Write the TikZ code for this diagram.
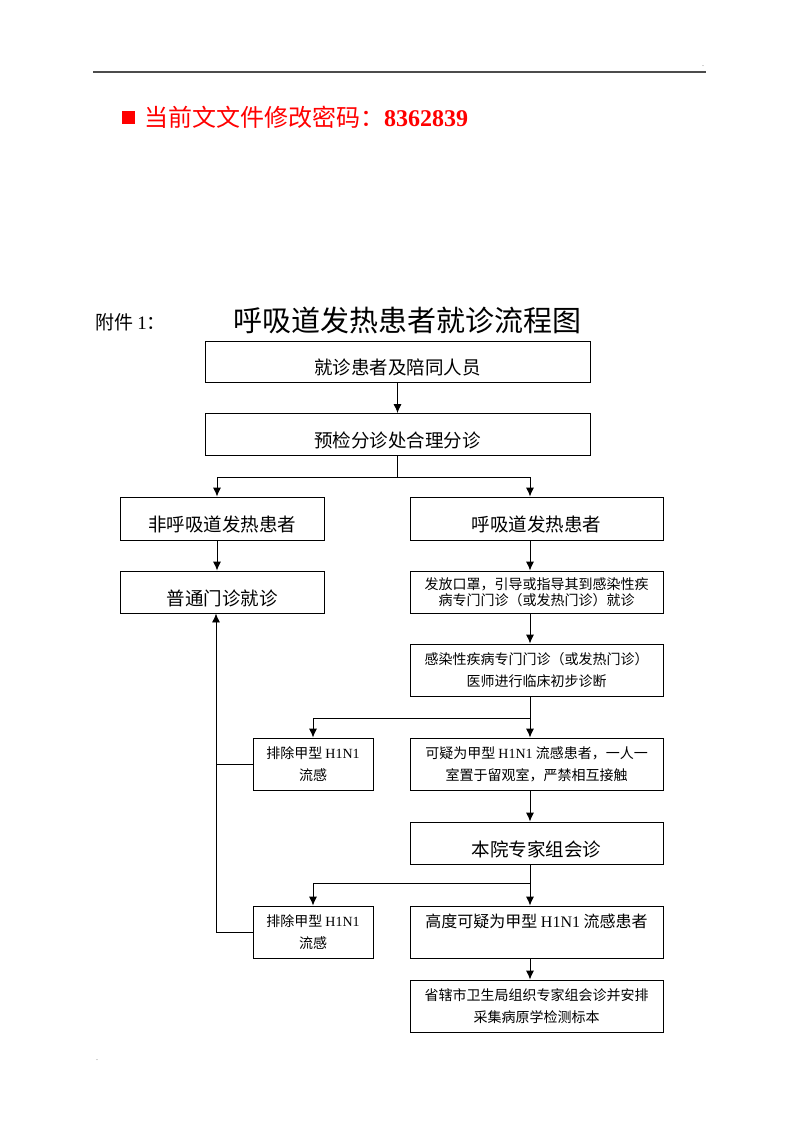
\documentclass[tikz,border=0pt]{standalone}
\usepackage{fontspec}
\setmainfont{Liberation Serif}
\newfontfamily\cjk{Noto Sans CJK SC}
\usetikzlibrary{arrows.meta,positioning}

\newcommand{\lat}[1]{{\rmfamily #1}}

\tikzset{
  box/.style={draw,line width=0.9pt,inner sep=0pt,align=center},
  bigtext/.style={font=\cjk\fontsize{18.5}{22}\selectfont,text height=26pt,text depth=0pt},
  smalltext/.style={font=\cjk\fontsize{14}{22}\selectfont},
  tighttext/.style={font=\cjk\fontsize{14}{16}\selectfont},
  arr/.style={-{Latex[length=9pt,width=8pt]},line width=0.9pt},
  link/.style={line width=0.9pt},
}

\begin{document}
\begin{tikzpicture}[x=1pt,y=-1pt]
  \useasboundingbox (0,0) rectangle (800,1132);

  % page header
  \draw[gray!60!black,line width=1.3pt] (93,72) -- (706,72);
  \node[font=\fontsize{6}{6}\selectfont,inner sep=0pt] (dotA) at (703,66) {.};
  \node[font=\fontsize{6}{6}\selectfont,inner sep=0pt] (dotB) at (97,1060) {.};

  \node[fill=red,minimum size=13pt,inner sep=0pt] (bullet) at (128.5,117.5) {};
  \node[anchor=west,text=red,font=\cjk\fontsize{24}{28}\selectfont,inner sep=0pt]
    (pwd) at (144,117) {当前文文件修改密码：\lat{\bfseries 8362839}};

  \node[anchor=west,font=\cjk\fontsize{19}{22}\selectfont,inner sep=0pt]
    (annex) at (95,322) {附件 \lat{1}：};
  \node[font=\cjk\fontsize{29}{34}\selectfont,inner sep=0pt]
    (title) at (407.5,320) {呼吸道发热患者就诊流程图};

  % main column
  \node[box,bigtext,minimum width=385pt,minimum height=41pt] (visit) at (397.5,361.5) {就诊患者及陪同人员};
  \node[box,bigtext,minimum width=385pt,minimum height=42pt] (triage) at (397.5,434.5) {预检分诊处合理分诊};

  % two branches
  \node[box,bigtext,minimum width=204pt,minimum height=43pt] (nonresp) at (222,518.5) {非呼吸道发热患者};
  \node[box,bigtext,minimum width=253pt,minimum height=43pt] (resp) at (536.5,518.5) {呼吸道发热患者};
  \node[box,bigtext,minimum width=204pt,minimum height=42pt] (clinic) at (222,592) {普通门诊就诊};
  \node[box,tighttext,minimum width=253pt,minimum height=42pt] (mask) at (536.5,592)
    {发放口罩，引导或指导其到感染性疾\\病专门门诊（或发热门诊）就诊};
  \node[box,smalltext,minimum width=253pt,minimum height=52pt] (doctor) at (536.5,670)
    {感染性疾病专门门诊（或发热门诊）\\医师进行临床初步诊断};

  \node[box,smalltext,minimum width=120pt,minimum height=52pt] (exclA) at (313,764)
    {排除甲型 \lat{H1N1}\\流感};
  \node[box,smalltext,minimum width=253pt,minimum height=52pt] (suspect) at (536.5,764)
    {可疑为甲型 \lat{H1N1} 流感患者，一人一\\室置于留观室，严禁相互接触};
  \node[box,bigtext,minimum width=253pt,minimum height=42pt] (expert) at (536.5,843) {本院专家组会诊};

  \node[box,smalltext,minimum width=120pt,minimum height=52pt] (exclB) at (313,932)
    {排除甲型 \lat{H1N1}\\流感};
  \node[box,font=\cjk\fontsize{16}{22}\selectfont,minimum width=253pt,minimum height=52pt] (high) at (536.5,932)
    {高度可疑为甲型 \lat{H1N1} 流感患者\\\mbox{}};
  \node[box,smalltext,minimum width=253pt,minimum height=52pt] (report) at (536.5,1006)
    {省辖市卫生局组织专家组会诊并安排\\采集病原学检测标本};

  % connectors
  \draw[arr] (visit) -- (triage);
  \draw[arr] (triage.south) -- ++(0,21) -| ([xshift=-5pt]nonresp.north);
  \draw[arr] (triage.south) -- ++(0,21) -| ([xshift=-6.5pt]resp.north);
  \draw[arr] ([xshift=-5pt]nonresp.south) -- ([xshift=-5pt]clinic.north);
  \draw[arr] ([xshift=-6.5pt]resp.south) -- ([xshift=-6.5pt]mask.north);
  \draw[arr] ([xshift=-6.5pt]mask.south) -- ([xshift=-6.5pt]doctor.north);
  \draw[arr] ([xshift=-6.5pt]doctor.south) -- ([xshift=-6.5pt]suspect.north);
  \draw[arr] ([xshift=-6.5pt]doctor.south) -- ++(0,22) -| (exclA.north);
  \draw[arr] ([xshift=-6.5pt]suspect.south) -- ([xshift=-6.5pt]expert.north);
  \draw[arr] ([xshift=-6.5pt]expert.south) -- ([xshift=-6.5pt]high.north);
  \draw[arr] ([xshift=-6.5pt]expert.south) -- ++(0,19) -| (exclB.north);
  \draw[arr] ([xshift=-6.5pt]high.south) -- ([xshift=-6.5pt]report.north);

  % back to the general clinic
  \draw[arr] (exclB.west) -| ([xshift=-6pt]clinic.south);
  \draw[link] (exclA.west) -- ([xshift=-6pt]clinic.south |- exclA.west);
\end{tikzpicture}
\end{document}
